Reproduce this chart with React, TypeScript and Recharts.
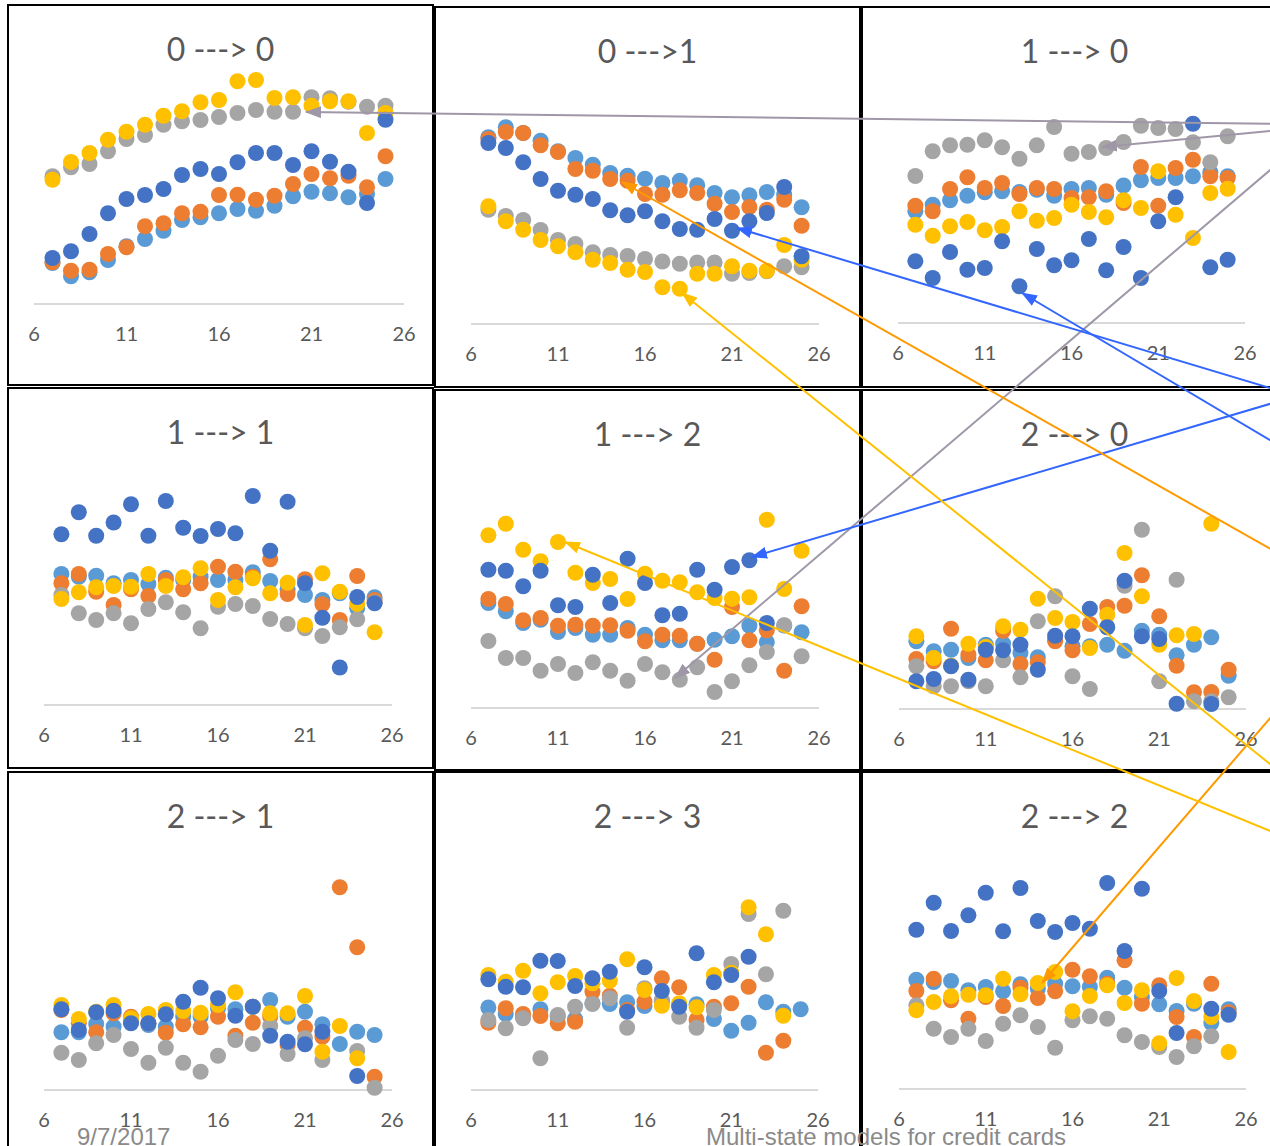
import React from 'react';
import { ScatterChart, Scatter, XAxis, YAxis } from 'recharts';

// months on book, same for every panel
const hours = [7, 8, 9, 10, 11, 12, 13, 14, 15, 16, 17, 18, 19, 20, 21, 22, 23, 24, 25];
const xTicks = [6, 11, 16, 21, 26];
const titles = ['0 ---> 0', '0 --->1', '1 ---> 0', '1 ---> 1', '1 ---> 2', '2 ---> 0', '2 ---> 1', '2 ---> 3', '2 ---> 2'];

// 0 ---> 0
const lb00 = [16.4, 11.1, 12.7, 17.6, 23.1, 26, 29.3, 33.6, 34.7, 36.3, 38, 37.3, 39.3, 43.1, 44.9, 44.3, 42.7, 44, 50];
const or00 = [16.7, 13.3, 13.7, 20, 22.7, 31.1, 32.3, 36.3, 36.9, 43.6, 43.7, 41.7, 43.3, 48, 52, 50.3, 51.3, 46.7, 59.1];
const gr00 = [51.1, 54.7, 56, 61.1, 66, 67.6, 71.7, 73.1, 73.6, 74.8, 76.4, 77.6, 76.9, 76.9, 82.7, 82.3, 80.9, 78.9, 79.3];
const ye00 = [49.7, 56.8, 60.4, 65.7, 68.9, 71.7, 75.3, 77.1, 80.7, 81.6, 89.1, 89.6, 82.4, 82.7, 79.3, 81.1, 81.1, 68.4, 76.4];
const db00 = [18.4, 21.1, 28, 36.3, 42, 43.6, 46, 51.6, 54, 52, 56.7, 60.4, 60.4, 55.6, 61.1, 56.9, 52.9, 40.4, 73.7];

// 0 ---> 1
const lb01 = [74.7, 78.7, 76.4, 73.3, 69.1, 66.4, 63.7, 60.4, 59.3, 58.1, 56.4, 57.3, 55.5, 52.4, 50.7, 51.5, 52.8, 51.7, 46.7];
const or01 = [74, 76.8, 76.4, 71.5, 68.8, 62, 61.3, 58, 57.3, 52, 51.7, 53.5, 52.4, 48.1, 44.8, 46.8, 45.7, 49.7, 39.3];
const gr01 = [45.7, 43.2, 41.6, 37.6, 33.6, 32, 28.7, 27.6, 27.2, 26, 25, 24.1, 24.6, 24.6, 20.1, 20.4, 21.1, 23.1, 22.7];
const ye01 = [47.1, 41.1, 37.7, 33.6, 31.1, 28.7, 25.7, 24.4, 21.7, 20.8, 14.7, 14.1, 20.1, 20.1, 23.1, 21.3, 21.3, 31.6, 25.7];
const db01 = [72.4, 70.4, 64.7, 58, 53.3, 51.7, 50, 45.5, 43.5, 45.1, 41.1, 38, 37.7, 42, 37.3, 41.1, 44.4, 54.8, 27.1];

// 1 ---> 0
const lb10 = [44.7, 47.3, 49.1, 50.9, 52.3, 52.7, 52.4, 53.3, 50.9, 53.6, 54, 51.3, 55, 57.1, 58, 58, 58.7, 60.3, 58.7];
const or10 = [46.9, 44.7, 53.6, 58.3, 54, 56, 51.6, 54, 53.6, 50, 50.3, 52.7, 48, 62.4, 46.9, 62, 65.3, 58.7, 58];
const gr10 = [58.8, 68.7, 71.1, 71.3, 73.1, 70.3, 65.7, 71.1, 78.4, 67.7, 68.4, 70, 72.4, 78.9, 78, 77.6, 72.3, 64.3, 74.7];
const ye10 = [39.3, 34.9, 38.7, 40.4, 37.1, 38.4, 44.7, 40.9, 42, 47.3, 44.4, 42.3, 49.1, 46, 60.7, 43.3, 34, 52, 53.7];
const db10 = [24.7, 18, 28.4, 21.3, 22, 32.7, 14.7, 29.6, 23.1, 25.1, 33.6, 21.1, 30.4, 18, 40.7, 50.3, 79.7, 22.3, 25.3];

// 1 ---> 1
const lb11 = [52.4, 51.3, 51.7, 48.7, 50, 48.4, 50.9, 50, 51.3, 50, 50, 53.1, 49.6, 46.3, 44, 42, 44.7, 38.7, 43.1];
const or11 = [48.7, 52.4, 45.3, 40, 46.3, 43.6, 50, 46.3, 48.7, 55.3, 53.3, 51.3, 58.3, 44.4, 50.3, 40.3, 34, 51.6, 42];
const gr11 = [44, 36.7, 34, 36.7, 32.7, 38.4, 41.1, 37.1, 30.7, 39.3, 40.4, 39.6, 34.4, 32.4, 30.7, 27.6, 31.1, 34.3, 41];
const ye11 = [42.4, 45.1, 47.1, 47.6, 47.3, 52.4, 47.6, 51.1, 54.7, 42, 47.1, 50.7, 44.7, 48.9, 32, 52.7, 45.3, 40.4, 29.1];
const db11 = [68.3, 77.1, 67.7, 73, 80.3, 67.7, 81.6, 70.9, 67.6, 70.4, 68.7, 83.6, 61.7, 81.3, 48.7, 34.9, 15, 43.2, 40.7];

// 1 ---> 2
const lb12 = [42, 38.7, 34, 35.3, 30.4, 32, 29.3, 29.3, 32, 29.3, 27.1, 27.1, 25.7, 27.3, 28.7, 32.9, 26.3, 33, 30.3];
const or12 = [43.6, 41.6, 35.1, 36, 32.9, 33.3, 32.9, 33.1, 30.9, 26.7, 29.3, 28.9, 25.7, 19.3, 40.4, 27.1, 31.1, 14.9, 40.7];
const gr12 = [26.8, 20, 20, 14.9, 17.6, 14, 18.3, 14.9, 10.9, 17.6, 14.3, 11.3, 16.3, 6.4, 10.7, 17.1, 22.4, 33.1, 20.7];
const ye12 = [69.1, 73.7, 63.3, 58.7, 66.4, 54.1, 50, 51.6, 43.6, 53.7, 50.9, 50.3, 46.3, 44, 43.7, 44.3, 75.3, 47.6, 62.9];
const db12 = [55.3, 54.9, 48.7, 54.9, 41.1, 40.4, 53.3, 42, 59.7, 50, 37.1, 37.7, 55.3, 47.3, 56.4, 59.1, 34, null, null];

// 2 ---> 0
const lb20 = [27.1, 23.1, 23.7, 20.4, 25.7, 26.1, 22.4, 20.7, 27.7, 25.1, 25.1, 25.7, 23.3, 31.3, 29.7, 21.5, 25.7, 28.7, 13.3];
const or20 = [20, 19.1, 32.1, 21.7, 19.5, 31.3, 18, 18.7, 27.1, 23.5, 34, 40.8, 41.3, 53.5, 37.1, 17.3, 6.7, 6.8, 15.7];
const gr20 = [17.1, 9.1, 9.1, 11.1, 9.1, 19.5, 12.7, 35.1, 45.1, 13.1, 8, 32.7, 49.3, 71.7, 11.1, 51.7, 3.1, 3.1, 4.7];
const ye20 = [29.1, 20.4, 17.3, 26.1, 24.8, 33.1, 31.7, 44.1, 36.4, 34.8, 24.4, 37.7, 62.4, 45.1, 25.7, 29.5, 30, 74.1, null];
const db20 = [11.1, 12, 17.1, 11.7, 23.7, 23.5, 25.7, 15.7, 29.3, 29.1, 40.1, 32.7, 51.3, 29.1, 28, 2.1, null, 2, null];

// 2 ---> 1
const lb21 = [23.1, 23.1, 26.4, 25.3, 27.3, 26, 25.3, 29.3, 29.3, 32.7, 32.3, 33.3, 36, 29.3, 31.3, 26.3, 18.4, 23.3, 22];
const or21 = [32, 26.7, 23.1, 30.7, 29.3, 26.7, 22.9, 26.3, 25.1, 29.3, 21.7, 26.9, 29.3, 18, 24.9, 21.3, 81.1, 57.1, 5.3];
const gr21 = [14.9, 12, 18.7, 22, 16.4, 10.9, 16.9, 10.9, 7.3, 13.7, 20, 18.4, 25.6, 14.4, 20.7, 12, null, 15.6, 0.9];
const ye21 = [34, 28.4, 31.3, 34, 28.7, 30.4, 32, 31.6, 30.9, 34, 39.1, 33.3, 30.7, 30.7, 37.6, 15.3, 25.6, 12.7, null];
const db21 = [32.3, 24, 31.1, 31.7, 26.7, 26.7, 30.3, 35.3, 40.9, 36.7, 29.7, 33.3, 21.7, 19.3, 18.3, 23.3, null, 5.6, null];

// 2 ---> 3
const lb23 = [33, 30.4, 29.3, 32.3, 29.3, 28.3, 34.7, 34.4, 35.1, 33.6, 35.3, 34, 34.3, 28.4, 23.7, 26.9, 35.1, 31.3, 32.3];
const or23 = [26.9, 32.7, 30.4, 29.6, 26.7, 27.3, 39.3, 37.7, 32, 35.3, 44.7, 41.1, 28, 33.3, 34.7, 41.3, 14.9, 19.7, null];
const gr23 = [28, 24.7, 28.7, 12.7, 30, 33.3, 34.4, 36.7, 24.9, 40.7, 36, 29.3, 24.9, 32, 50.4, 70.4, 46.3, 71.7, null];
const ye23 = [46, 43.3, 47.7, 38.7, 43.1, 45.6, 42.7, 43.7, 52.3, 40, 33.7, 34.7, 33.1, 46, 46.9, 73.1, 62.3, 29.7, null];
const db23 = [44.3, 41.3, 41.1, 51.7, 51.6, 41.6, 44.7, 47.3, 31.3, 49.1, 39.6, 33.3, 54.7, 43.1, 46, 53.3, null, null, null];

// 2 ---> 2
const lb22 = [43.7, 42.8, 43.2, 39.5, 40.8, 39.1, 41.9, 40.1, 42.1, 41.1, 40.8, 44.5, 40.5, 36.8, 33.9, 31.2, 34.1, 26.4, 31.9];
const or22 = [39.2, 44.1, 35.5, 28.1, 36.8, 33.2, 40.5, 36.4, 39.1, 47.7, 45.1, 42.1, 51.5, 34.1, 41.5, 28.8, 20.8, 42.1, 30.7];
const gr22 = [33.5, 24.1, 20.8, 24.1, 19.2, 26.1, 29.5, 24.8, 16.5, 27.5, 29.1, 28.1, 21.5, 18.8, 16.8, 12.8, 17.1, 21.1, null];
const ye22 = [31.5, 34.8, 37.1, 37.7, 37.5, 44.1, 37.9, 42.4, 46.8, 31.1, 37.2, 41.5, 34.4, 39.5, 18.3, 44.4, 35.2, 28.8, 14.8];
const db22 = [63.7, 74.5, 63.2, 69.5, 78.5, 63.1, 80.4, 67.2, 62.8, 66.4, 64.1, 82.4, 55.2, 80.1, 39.2, 22.4, null, 32.1, 29.7];

// drawing order: light blue at the bottom, dark blue on top
const seriesColors = ['#5B9BD5', '#ED7D31', '#A5A5A5', '#FFC000', '#4472C4'];
const panelSeries = [
  [lb00, or00, gr00, ye00, db00],
  [lb01, or01, gr01, ye01, db01],
  [lb10, or10, gr10, ye10, db10],
  [lb11, or11, gr11, ye11, db11],
  [lb12, or12, gr12, ye12, db12],
  [lb20, or20, gr20, ye20, db20],
  [lb21, or21, gr21, ye21, db21],
  [lb23, or23, gr23, ye23, db23],
  [lb22, or22, gr22, ye22, db22],
];

// slide annotation arrows [x1, y1, x2(tip), y2(tip), colour]
const arrows: [number, number, number, number, string][] = [
  [1290, 124, 306, 112, '#9F97A8'],
  [1290, 129, 1102, 147, '#9F97A8'],
  [1290, 153, 675, 678, '#9F97A8'],
  [1290, 394, 737, 228, '#3366FF'],
  [1290, 452, 1022, 293, '#3366FF'],
  [1290, 398, 752, 557, '#3366FF'],
  [1290, 560, 622, 182, '#FF9900'],
  [1290, 695, 1042, 983, '#FF9900'],
  [1290, 780, 682, 293, '#FFC000'],
  [1290, 839, 565, 542, '#FFC000'],
];

// panel boxes: outer left/top, plot left/right and axis line inside the border
const boxes = [
  { left: 7, top: 4, pl: 25, pr: 395, axis: 298 },
  { left: 434, top: 6, pl: 35, pr: 383, axis: 316 },
  { left: 861, top: 6, pl: 35, pr: 382, axis: 315 },
  { left: 7, top: 387, pl: 35, pr: 383, axis: 316 },
  { left: 434, top: 389, pl: 35, pr: 383, axis: 317 },
  { left: 861, top: 389, pl: 36, pr: 383, axis: 318 },
  { left: 7, top: 771, pl: 35, pr: 383, axis: 317 },
  { left: 434, top: 771, pl: 35, pr: 382, axis: 317 },
  { left: 861, top: 771, pl: 36, pr: 383, axis: 316 },
];

const W = 423;
const H = 378;

const dot = (color: string) => (props: any) =>
  props.cx == null ? <g /> : <circle cx={props.cx} cy={props.cy} r={8} fill={color} />;

const toPoints = (vals: (number | null)[]) =>
  hours.map((x, i) => ({ x, y: vals[i] })).filter((d) => d.y != null);

const Panel = ({ idx }: { idx: number }) => {
  const b = boxes[idx];
  return (
    <div
      style={{
        position: 'absolute',
        left: b.left,
        top: b.top,
        width: W + 4,
        height: H + 4,
        border: '2px solid #000',
        boxSizing: 'border-box',
        background: '#fff',
      }}
    >
      <div
        style={{
          position: 'absolute',
          left: 0,
          top: 27,
          width: W,
          textAlign: 'center',
          fontFamily: 'Lato, "Open Sans", sans-serif',
          fontSize: 32,
          lineHeight: '32px',
          color: '#595959',
          whiteSpace: 'pre',
        }}
      >
        {titles[idx]}
      </div>
      <div style={{ position: 'absolute', left: 0, top: 0 }}>
        <ScatterChart
          width={W}
          height={H}
          margin={{ top: b.axis - 250, right: W - b.pr, bottom: 0, left: b.pl }}
        >
          <XAxis
            type="number"
            dataKey="x"
            domain={[6, 26]}
            ticks={xTicks}
            height={H - b.axis}
            tickLine={false}
            tickSize={6}
            tickMargin={17}
            axisLine={{ stroke: '#D9D9D9', strokeWidth: 2 }}
            tick={{ fill: '#595959', fontSize: 20, fontFamily: 'Lato, "Open Sans", sans-serif' }}
            interval={0}
          />
          <YAxis type="number" dataKey="y" domain={[0, 100]} hide />
          {panelSeries[idx].map((vals, s) => (
            <Scatter
              key={s}
              data={toPoints(vals)}
              fill={seriesColors[s]}
              shape={dot(seriesColors[s])}
              isAnimationActive={false}
            />
          ))}
        </ScatterChart>
      </div>
    </div>
  );
};

export default function App() {
  return (
    <div
      style={{
        position: 'absolute',
        left: 0,
        top: 0,
        width: 1270,
        height: 1146,
        overflow: 'hidden',
        background: '#fff',
      }}
    >
      {titles.map((_, i) => (
        <Panel key={i} idx={i} />
      ))}
      <div
        style={{
          position: 'absolute',
          left: 77,
          top: 1123,
          fontFamily: '"Liberation Sans", Arial, sans-serif',
          fontSize: 24,
          color: '#8A8A8A',
          whiteSpace: 'nowrap',
        }}
      >
        9/7/2017
      </div>
      <div
        style={{
          position: 'absolute',
          left: 706,
          top: 1123,
          fontFamily: '"Liberation Sans", Arial, sans-serif',
          fontSize: 24,
          color: '#8A8A8A',
          whiteSpace: 'nowrap',
        }}
      >
        Multi-state models for credit cards
      </div>
      <svg
        width={1270}
        height={1146}
        style={{ position: 'absolute', left: 0, top: 0, pointerEvents: 'none' }}
      >
        <defs>
          {arrows.map((a, i) => (
            <marker
              key={i}
              id={`head${i}`}
              markerUnits="userSpaceOnUse"
              markerWidth={16}
              markerHeight={12}
              refX={15}
              refY={6}
              orient="auto"
            >
              <path d="M0,0 L16,6 L0,12 z" fill={a[4]} />
            </marker>
          ))}
        </defs>
        {arrows.map((a, i) => (
          <line
            key={i}
            x1={a[0]}
            y1={a[1]}
            x2={a[2]}
            y2={a[3]}
            stroke={a[4]}
            strokeWidth={2}
            markerEnd={`url(#head${i})`}
          />
        ))}
      </svg>
    </div>
  );
}
